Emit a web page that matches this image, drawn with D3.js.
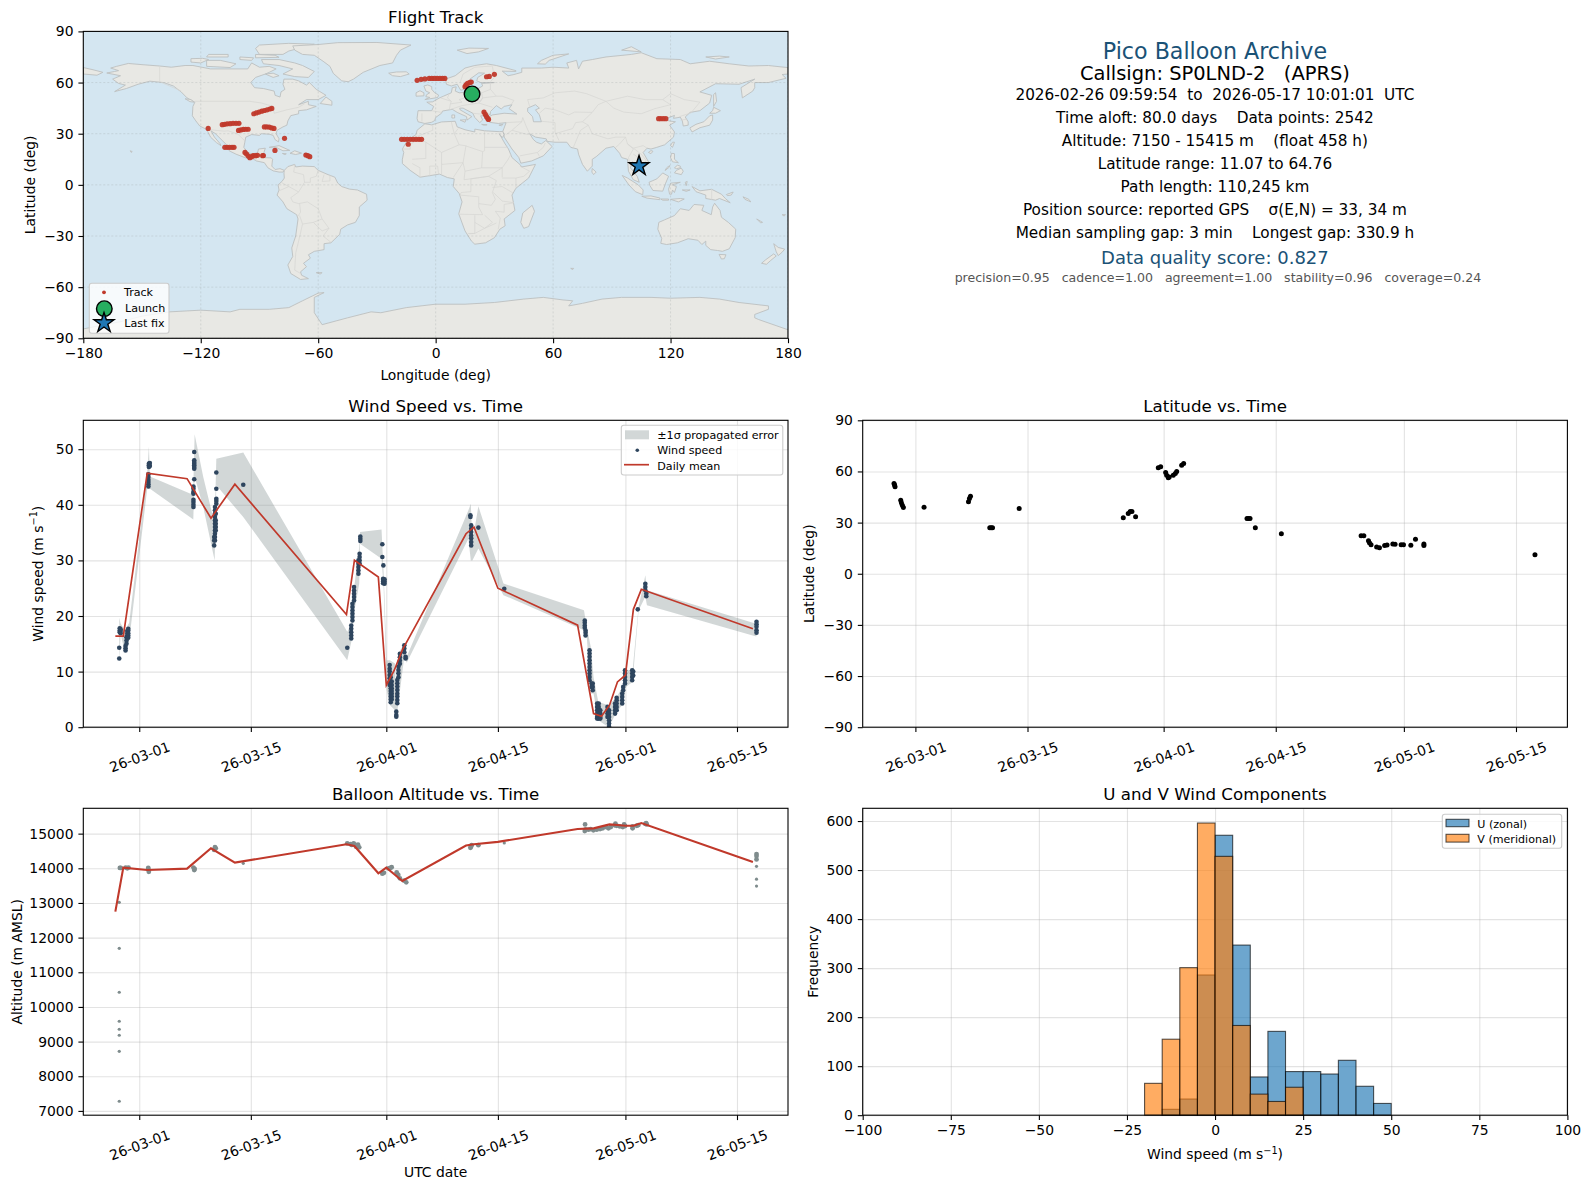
<!DOCTYPE html>
<html>
<head>
<meta charset="utf-8">
<script src="https://cdn.jsdelivr.net/npm/d3@7"></script>
<style>
  body { margin: 0; background: #fff; }
  text { font-family: "DejaVu Sans", sans-serif; fill: #000; white-space: pre; }
  .domain { display: none; }
  .tick line { stroke: #000; stroke-width: 1.1; }
  .tick text { font-size: 13.9px; }
  .grid line { stroke: #b0b0b0; stroke-opacity: 0.35; stroke-width: 1.1; }
  .grid text { display: none; }
</style>
</head>
<body>
<div id="chart"></div>
<script>
// all times are days counted from 2026-03-01 00:00 UTC
var dateTicks = ["2026-03-01", "2026-03-15", "2026-04-01", "2026-04-15", "2026-05-01", "2026-05-15"];
var lonTicks = [-180, -120, -60, 0, 60, 120, 180];
var latTicks = [-90, -60, -30, 0, 30, 60, 90];
var windTicks = [0, 10, 20, 30, 40, 50];
var altTicks = [7000, 8000, 9000, 10000, 11000, 12000, 13000, 14000, 15000];
var histXTicks = [-100, -75, -50, -25, 0, 25, 50, 75, 100];
var histYTicks = [0, 100, 200, 300, 400, 500, 600];

var infoLines = [
  "2026-02-26 09:59:54  to  2026-05-17 10:01:01  UTC",
  "Time aloft: 80.0 days    Data points: 2542",
  "Altitude: 7150 - 15415 m    (float 458 h)",
  "Latitude range: 11.07 to 64.76",
  "Path length: 110,245 km",
  "Position source: reported GPS    \u03c3(E,N) = 33, 34 m",
  "Median sampling gap: 3 min    Longest gap: 330.9 h"
];

// wind speed samples: [time, [speeds]]
var windGroups = [
  [-2.51, [12.35, 14.3]],
  [-2.45, [17.8, 17.4, 17.1]],
  [-2.34, [17.6, 17.3, 16.9]],
  [-1.72, [13.8, 14.2, 14.6]],
  [-1.6, [15.0, 15.6, 16.2]],
  [-1.5, [16.3, 16.8, 17.3]],
  [-1.38, [17.7, 17.4, 16.9, 16.5, 16.1]],
  [1.21, [47.4, 47.1, 46.8]],
  [1.33, [47.5, 47.0]],
  [1.15, [45.5, 45.0, 44.5, 44.1, 43.7, 43.3]],
  [6.9, [49.5, 48, 47.7, 47.4, 47.1, 46.8, 46.5, 44.6]],
  [6.8, [43.3, 42.9, 42.3, 42.0, 40.9, 40.5, 40, 39.6]],
  [9.67, [45.8, 42.9, 41.1, 40.7, 40.2]],
  [9.5, [39.6, 39, 38.4, 37.8, 37.2, 36.6, 36, 35.4, 34.8, 34.2, 33.6]],
  [9.6, [38.4, 37.2, 36.6, 36, 35.4]],
  [9.4, [34.2, 33.6, 32.7]],
  [13.05, [43.6]],
  [26.1, [14.3]],
  [26.6, [15.95, 16.5, 17.1, 17.7, 18.3]],
  [26.75, [19.2, 19.8, 20.4, 21, 21.6, 22.2]],
  [26.95, [22.8, 23.4, 24, 24.6, 25.2]],
  [27.5, [27.6, 28.2, 28.8, 29.4, 30]],
  [27.65, [29.4, 30, 30.6, 31.2]],
  [27.74, [34.3, 33.9, 33.5]],
  [30.5, [32.9, 30.6]],
  [30.63, [29.1]],
  [30.6, [26.7, 26.5, 26.2, 25.9]],
  [30.78, [26.6, 26.2, 25.8]],
  [31.42, [11.2, 10.5, 10, 9.4, 8.8, 8.2, 7.6]],
  [31.55, [9, 8.2, 7.6, 7, 6.5, 6, 5.5, 5, 4.5]],
  [31.68, [8.2, 7.6, 7, 6.5, 6, 5.5, 5]],
  [32.7, [13.2, 12.6, 12, 11.4]],
  [32.52, [10.9, 10.3, 9.7, 9]],
  [32.38, [8.5, 7.9, 7.3, 6.7, 6, 5.5, 4.9, 4.3]],
  [32.25, [2.8, 2.2, 1.9]],
  [33.26, [14.75, 14.15, 13.5]],
  [33.42, [12.65, 12.35]],
  [41.55, [38.1, 37.8]],
  [41.65, [36.3, 35.7, 35.1, 34.5, 34, 33.3, 32.7]],
  [42.55, [35.9]],
  [45.8, [24.9]],
  [55.9, [19.2, 18.8, 18.3, 17.9]],
  [56, [17.4, 17, 16.5]],
  [56.5, [13.85, 13.25, 12.65, 12.05, 11.45, 10.85, 10.25, 9.65, 9.05, 8.45]],
  [56.9, [7.85, 7.25, 6.65]],
  [56.75, [7.85, 7.25]],
  [57.45, [4.25, 3.65, 3.05, 2.45, 1.85, 1.55]],
  [57.65, [4.25, 3.65, 3.05, 2.45, 1.85, 1.55]],
  [57.85, [3.05, 2.45, 1.85, 1.55]],
  [58.75, [3.65, 3.05, 2.45, 1.85]],
  [58.95, [3.05, 2.45, 1.85, 1.25, 0.65, 0.1]],
  [59.7, [4.25, 3.65, 3.05, 2.45]],
  [59.9, [5.3, 4.85, 4.25, 3.65, 3.05]],
  [60.6, [4.25, 4.85, 5.45, 6.05]],
  [60.72, [6.65, 7.25]],
  [60.95, [7.85, 8.45, 9.05, 9.65, 10.25]],
  [61.85, [10.25, 9.65, 9.05, 8.45]],
  [61.98, [10.0, 9.3]],
  [62.55, [21.2]],
  [63.5, [25.8, 25.2, 24.65]],
  [63.62, [24.05, 23.55]],
  [77.45, [18.95, 18.5, 18.05, 17.45, 17.0]]
];

// error band edges
var bandT = [-2.51, -2.34, -1.8, -1.26, 1.0, 1.21, 1.34, 6.44, 6.78, 6.95, 8.03, 9.46, 9.67, 13.05, 26.1, 26.65, 27, 27.6, 27.7, 30.4, 30.67, 31.05, 31.46, 32.1, 32.25, 32.5, 33.26, 33.56, 41.3, 41.6, 41.8, 42.55, 45.7, 55.8, 56.15, 56.65, 57, 57.6, 58.9, 59.9, 60.75, 61.05, 61.9, 62.65, 63.5, 63.7, 77.3, 77.45];
var bandHi = [19.7, 18.65, 17.45, 18.8, 45.9, 50.5, 45.1, 42.0, 43.2, 52.7, 45, 36.6, 48.3, 49.4, 17.15, 18.65, 25.5, 32.4, 35.1, 35.55, 27.6, 12.05, 12.05, 11.45, 3.35, 13.25, 15.05, 12.65, 39, 40.2, 33.3, 39.75, 25.85, 21.05, 18, 14.45, 9.05, 4.55, 3.95, 5.45, 7.55, 10.25, 10.25, 21.6, 27.35, 24.65, 18.65, 19.55];
var bandLo = [11.75, 16.7, 13.55, 15.65, 42.9, 42.9, 42.9, 37.7, 37.35, 45.0, 39.6, 30, 43.5, 37.8, 12.05, 15.65, 21.0, 25.8, 33, 30.3, 24.9, 6.65, 3.95, 3.05, 1.25, 4.25, 12.65, 11.6, 33.9, 30, 30, 32.15, 23.75, 17.45, 16.25, 6.05, 6.05, 1.25, 0, 2.75, 4.25, 7.25, 8.15, 21.0, 23.45, 21.95, 16.35, 16.35];

// daily means
var meanDays = [-3, -2, 1, 6, 9, 12, 26, 27, 30, 31, 32, 33, 41, 42, 45, 55, 57, 58, 59, 60, 61, 62, 63, 77];
var meanWind = [16.37, 16.37, 45.7, 44.7, 37.6, 43.7, 20.26, 30.04, 27, 7.55, 10.25, 13.85, 34.8, 36, 25, 18.35, 2.46, 1.98, 3.96, 8.15, 9.35, 21.2, 24.8, 17.7];
var meanAlt = [12750, 14020, 13950, 13990, 14577, 14163, 14692, 14644, 13856, 14020, 13827, 13635, 14657, 14695, 14762, 15133, 15152, 15209, 15267, 15248, 15228, 15228, 15305, 14181];

// altitude: isolated samples in the climb and at the end, then the float samples
var altSparseT = [-2.51, -2.51, -2.51, -2.51, -2.51, -2.51, -2.51, -2.51, 13.05, 45.8, 77.45, 77.45, 77.45];
var altSparseV = [13019, 11692, 10423, 9587, 9356, 9183, 8720, 7279, 14144, 14733, 14057, 13686, 13486];
var altT = [-2.43, -2.33, -1.7, -1.5, -1.35, 1.13, 1.2, 1.13, 6.8, 6.9, 6.95, 9.6, 9.4, 9.5, 26.1, 26.5, 26.65, 26.9, 27.0, 27.2, 27.45, 27.6, 30.5, 30.7, 31.25, 31.67, 31.5, 32.3, 32.5, 32.7, 33.25, 33.5, 41.55, 41.7, 41.63, 42.55, 55.94, 55.9, 56.0, 56.36, 56.65, 56.98, 57.4, 57.82, 58.15, 58.57, 58.87, 59.16, 59.75, 59.65, 59.9, 60.3, 60.67, 60.84, 60.95, 61.9, 61.9, 62.43, 62.63, 63.5, 63.6, 63.68, 77.45, 77.45, 77.45];
var altV = [14010, 14010, 14020, 14000, 14020, 13980, 13900, 14010, 14020, 13950, 13980, 14577, 14530, 14610, 14721, 14700, 14673, 14721, 14690, 14625, 14680, 14605, 13846, 13870, 14000, 14030, 14010, 13885, 13808, 13712, 13644, 13596, 14590, 14667, 14620, 14667, 15267, 15076, 15120, 15114, 15133, 15095, 15114, 15133, 15152, 15190, 15152, 15190, 15286, 15240, 15228, 15209, 15190, 15267, 15220, 15209, 15152, 15228, 15248, 15280, 15305, 15267, 14410, 14353, 14257];

var latT = [-2.67, -2.6, -2.54, -1.83, -1.75, -1.63, -1.5, 1.08, 6.88, 6.75, 6.63, 9.29, 9.46, 9.63, 12.96, 25.96, 26.58, 26.83, 27.04, 27.5, 30.33, 30.63, 31.25, 31.38, 31.58, 31.7, 32.2, 32.46, 32.63, 33.25, 33.5, 41.41, 41.6, 41.79, 42.45, 45.7, 55.66, 56, 56.58, 56.7, 56.9, 57.6, 57.95, 58.6, 58.9, 59.62, 59.9, 60.66, 60.95, 61.87, 62.45, 63.5, 63.5, 77.37];
var latV = [52.9, 52, 51, 43.1, 41.6, 40.2, 38.8, 39, 45.5, 44.1, 42.2, 27, 27, 27, 38.2, 32.9, 35.3, 36.5, 36.5, 33.5, 62.2, 62.7, 59.4, 57.8, 56.3, 56.8, 57.8, 58.8, 60, 63.7, 64.7, 32.35, 32.35, 32.35, 27.05, 23.5, 22.35, 22.35, 19.4, 18.2, 17.05, 15.7, 15.3, 16.5, 16.9, 17.45, 17.25, 17.05, 17.05, 16.7, 20.2, 17.45, 16.5, 11.2];

var trackLon = [-92.9, -91.6, -90.2, -88.8, -87.5, -86.1, -84.7, -83.7, -109, -107.8, -106.5, -105, -103.5, -102, -100.5, -100.7, -99.5, -98.2, -97, -95.8, -87.5, -86.3, -85, -83.8, -82.6, -116.2, -107.7, -106.5, -105.3, -104, -103, -97.4, -96.6, -95.7, -94.9, -94, -93.2, -92, -91, -88.4, -88, -82.1, -77.2, -66.3, -65.3, -64.3, -17.4, -16, -14.5, -13, -11.5, -10, -8.5, -7.2, -14, -9.45, -7.4, -5.5, -3.3, -2, -0.6, 0.8, 2.2, 3.5, 4.7, 15, 15.5, 16.3, 17.5, 18.2, 26, 27.4, 30, 24.7, 25.4, 26, 26.7, 27, 113.9, 115, 116.3, 117.6];
var trackLat = [41.7, 42.2, 42.7, 43.2, 43.6, 44, 44.5, 44.8, 35.3, 35.5, 35.8, 35.9, 36.1, 36.1, 36.1, 31.9, 32.2, 32.5, 32.6, 32.6, 34, 34, 33.9, 33.4, 33.1, 33.1, 22, 22, 22, 22, 22, 19, 18.1, 16.9, 15.9, 16.5, 17.1, 17.1, 17.3, 17.1, 17.2, 20.2, 27.3, 17.5, 17.1, 16.5, 26.7, 26.7, 26.7, 26.7, 26.7, 26.7, 26.7, 26.7, 23.8, 61.3, 61.9, 62.1, 62.4, 62.4, 62.4, 62.4, 62.4, 62.4, 62.4, 57.6, 58.6, 59.5, 60.1, 60.3, 63.4, 63.6, 64.8, 42.7, 41.3, 40, 38.8, 38.4, 38.8, 38.8, 38.8, 38.8];
var launchPos = [18.6, 53.3];
var lastPos = [103.9, 11.07];

var binEdgesU = [-15, -10, -5, 0, 5, 10, 15, 20, 25, 30, 35, 40, 45];
var countsU = [12, 33, 286, 571, 347, 78, 171, 89, 89, 84, 112, 59, 24];
var binEdgesV = [-20, -15, -10, -5, 0, 5, 10, 15, 20];
var countsV = [65, 155, 301, 596, 528, 183, 43, 28, 57];

// hand traced outlines, lon/lat
var landPolys = [
  // north america
  [[-168,65.6],[-164,66.5],[-162,67],[-166,68.5],[-163,69.5],[-157,71.2],[-150,70.5],[-141,69.7],[-135,69],[-128,70],[-124,70],[-115,68],[-108,68],[-100,68],[-96,68],[-94,71.5],[-90,69],[-85,69.5],[-81.5,68],[-85,66],[-87,65],[-92,63],[-94.5,60],[-92.5,57],[-88,56.5],[-82.5,55],[-82,52.5],[-79.5,51.5],[-79,54.5],[-77,56],[-78,59],[-77.5,62],[-73,62],[-70,61],[-66,58.5],[-64.5,60],[-61,56],[-56,52.5],[-60,50],[-66,50],[-70,47],[-65,49],[-65,47],[-61,46],[-66,44],[-70,43.5],[-70,41.7],[-74,40.6],[-75.5,37.5],[-76,35],[-78,34],[-81,32],[-81.5,30],[-80,27],[-80.3,25.2],[-82,26.5],[-83,29],[-85,29.7],[-89,30],[-90,29],[-94,29.5],[-97,28],[-97.5,25],[-98,22],[-96,19],[-94,18.2],[-91,18.7],[-90.5,21],[-87,21.5],[-88,18],[-88.5,16],[-84,15.8],[-83.3,15],[-83.7,11],[-82,9],[-79.5,9.5],[-77.3,8.5],[-78,7.5],[-80,7.5],[-83,8.2],[-85.7,10],[-87.5,13],[-91.5,14],[-94.5,16],[-97,15.8],[-102,18],[-105.5,20],[-105.5,22],[-109,26],[-112.5,30],[-114.8,31.7],[-113,28],[-110,24],[-109.7,23],[-112,24.8],[-115,28],[-117,32.5],[-120.5,34.5],[-122.5,37.5],[-124.3,40.5],[-124,46],[-123,48.5],[-127,51],[-130,54.5],[-134,58],[-139,60],[-146,60.8],[-152,59],[-158,56.5],[-164,54.7],[-158.5,58.5],[-162,59.5],[-165,62],[-161,64]],
  // arctic canada
  [[-80,73.5],[-72,71.5],[-68,70],[-62,66.5],[-65,63],[-72,63.5],[-78,65],[-73,68],[-80,70],[-88,71],[-89,73.5]],
  [[-117,69.5],[-105,68.8],[-102,71],[-110,73],[-117,73]],
  [[-125,72],[-120,71.5],[-116,73.5],[-119,74.2],[-125,74]],
  [[-90,76.5],[-78,76.5],[-75,78.5],[-65,81.5],[-62,82.5],[-75,83],[-90,82],[-92,80]],
  [[-92,74.5],[-80,74.8],[-82,76],[-92,76.5]],
  [[-117,75],[-106,75],[-106,76.5],[-116,76.5]],
  [[-87,65],[-83,65.5],[-80,64],[-83,63]],
  [[-100,73.5],[-94,73],[-93,74.5],[-100,75]],
  [[-59,47.7],[-53,46.7],[-53,49],[-56,51.5]],
  [[-128,50.5],[-125,50],[-123.5,48.5],[-125.5,48.8]],
  [[-85,22],[-80,23],[-74.5,20.2],[-78,20],[-82,22.2]],
  [[-74.4,18.5],[-72,20],[-68.5,18.6],[-71.5,17.8]],
  [[-78.3,18.4],[-76.3,18.2],[-77,17.8]],
  [[-67.2,18.4],[-65.7,18.3],[-66.5,17.9]],
  [[-156,20],[-155,19.5],[-155.5,19]],
  // greenland and iceland
  [[-72,79],[-73,81.5],[-60,82.3],[-50,83.4],[-30,83.5],[-12.6,82],[-18,79],[-20,76],[-22,71.5],[-28.5,70],[-37,66],[-42,62],[-44.7,60.5],[-48,61],[-52.3,65.4],[-54,69.5],[-57.5,72.5],[-62,76],[-68,76.5]],
  [[-24,65.5],[-20,66.2],[-15,66.3],[-13.5,65],[-18,63.5],[-22,64]],
  // south america
  [[-77.3,8.5],[-75.5,10.7],[-72,12],[-71.5,10.5],[-68,11],[-62,10.7],[-60,8.5],[-55,6],[-51.5,4.5],[-50,1],[-48,-1],[-44,-2.5],[-40,-3],[-35.3,-5.5],[-35,-9],[-39,-13],[-39,-18],[-41,-22],[-45,-23.5],[-48.5,-26],[-49,-29],[-53.5,-34],[-57,-34.5],[-57,-38],[-62,-39],[-65,-41],[-64,-43],[-67.5,-46],[-66,-48],[-69,-51],[-68.5,-53],[-65,-55],[-69,-55.5],[-74,-52],[-75.5,-47],[-73,-42],[-73.5,-37],[-71.5,-30],[-70.3,-20],[-71,-17.5],[-76,-14],[-78,-10],[-81,-6],[-80,-3],[-80.5,0],[-78.5,2],[-77.3,4],[-77.5,7]],
  [[-61,-51.5],[-58,-51.5],[-59,-52.3]],
  // eurasia
  [[-9,37],[-9.5,39],[-9,43.5],[-2,43.5],[-1,46],[-4.5,48.5],[-1.5,48.7],[2,51],[4,52],[8,54],[8.5,57],[10.5,57.5],[10,55],[12,54],[19,54.5],[21,56],[24,58],[23.5,59.5],[30,60],[23,60],[21,61],[21.5,63],[25,65.5],[22,65.7],[17.5,62],[18.5,60],[16.5,57],[14.5,56],[12.8,55.5],[11,59],[8,58],[5.5,59],[5,62],[10,64],[15,68.5],[20,70],[26,71],[31,70],[41,67],[41,66.5],[34,66.7],[37,64],[40,64.7],[44,66],[44,68.5],[54,68.5],[60,69],[68,68.5],[67,71.5],[72,73],[73,68],[75,72.5],[80,73.5],[87,75],[100,76.5],[105,77.5],[113,74],[125,73.5],[130,71],[140,72.5],[150,71],[160,69.7],[170,70],[178,69],[180,68.8],[180,65],[177,64.7],[179,62.5],[170,60],[163,60],[163,57],[162,55],[156.7,51],[156,57],[163,62],[155,59],[143,59.3],[135,54.5],[141,52.5],[140,48],[135,43.5],[130,42.5],[127.5,39.8],[129,37],[129,35],[126.5,34.5],[126,37.5],[125,39.7],[121.5,39],[122,40.7],[118,39],[119,37.5],[122.5,37],[119.5,35],[122,31],[121.5,28],[117,23.5],[113,22],[110,21],[108,21.5],[106,19],[109,13],[107,10.5],[105,8.7],[105,10],[102,12.5],[100.5,13.5],[99.5,10],[103,5],[104,1.5],[101,3],[98.5,8],[98,15],[95,16],[94,18.5],[91,22.5],[87,21.5],[82,16.5],[80,15],[80,11],[77.5,8],[75,12],[73,18],[72.5,21],[69,22],[67,25],[61,25],[57,25.5],[56.5,27],[51,28],[48,30],[50,26.5],[51.5,25],[54,24],[56.3,26],[59.5,22.5],[55,17],[49,14],[43.5,12.7],[42.5,16],[39,21],[35,28],[34.9,29.5],[34.3,31.3],[36,36.5],[32,36],[27.5,36.7],[26.5,39.5],[29,41],[35,42],[41.5,41.5],[37.5,44.7],[39,47],[35,46],[33.5,44.5],[31,46.5],[28,43],[28,41.3],[26,40.7],[23,40.5],[24,38],[22.5,36.5],[20,39.5],[19,42],[14,45],[12.3,45],[12.5,44],[18.5,40],[16,38],[15.8,40],[11,42.5],[8.5,44.3],[3.5,43.3],[3,42],[0,39.5],[-0.5,37.7],[-2,36.7],[-5.5,36]],
  [[-180,68.8],[-175,67.5],[-170,66],[-173,64.3],[-180,65]],
  // africa
  [[-5.5,35.8],[-2,35.2],[3,36.9],[10,37.3],[11,34],[15,32.3],[20,31],[20,32.7],[25,31.7],[32.5,31.2],[34.3,31.3],[34.9,29.5],[34.3,27.8],[33,29],[32.5,30],[35.5,24],[37.2,21],[39,16],[43,12],[44,10.5],[51,12],[47.5,4],[41,-2],[39,-6],[40.5,-15],[35,-20],[35.5,-24],[32.8,-26],[30,-31],[25.5,-34],[20,-34.8],[18.3,-33],[15,-27],[11.8,-17],[13.5,-10],[12,-5],[9,-1],[9.5,3.5],[6,4.3],[2,6.3],[-4,5.2],[-8,4.5],[-13,8.5],[-17,12.5],[-17,15],[-16.3,19],[-17,21],[-14.5,26],[-10,29.5],[-9.5,32]],
  [[49.3,-12],[50.5,-15.5],[47.5,-24.5],[45,-25.5],[43.5,-22],[44.5,-16.5]],
  // european islands
  [[-5.5,50],[1,51.2],[1.5,52.7],[-0.5,54],[-2,56],[-2,57.6],[-4,58.6],[-6,58],[-5,55],[-3,54],[-4.7,52.8],[-5,51.7],[-3,51.3]],
  [[-10,52],[-6,52.2],[-6,54],[-8,55.2],[-10,54]],
  [[11,79],[16,77],[22,78],[27,80],[17,80.2]],
  [[52,71],[56,70.8],[58,73],[68,76.8],[60,76],[54,73]],
  [[95,79],[105,78],[100,81]],
  [[138,75],[145,75.5],[150,75],[143,73.8]],
  [[8.3,39.2],[9.7,39.2],[9.7,41],[8.3,41]],
  [[12.5,38],[15.5,38.2],[15,36.7]],
  [[23.5,35.5],[26.3,35.2],[24.5,35]],
  [[32.3,35],[34.5,35.6],[33.7,34.7]],
  // east asia
  [[130,33],[131,31],[135,33.5],[140,35],[141.5,38],[141.5,41],[140,40.5],[137,37],[133,35.5],[130,33.5]],
  [[140,42],[143,42],[145.5,43.5],[142,45.5],[141.5,43.5]],
  [[142,46],[143.5,49],[143,54],[142,53],[142,48]],
  [[120,23],[121,22],[122,25],[121,25]],
  [[108.7,19],[110,18.3],[111,19.7],[110,20.1]],
  [[120,16],[120.5,18.5],[122,18.3],[122,15],[124,13],[121,13.5]],
  [[122,7],[125.5,6],[126.5,8],[125.5,9.8],[123,8.5]],
  [[122,10],[123.5,11.5],[125,11],[125,10],[123,9.5]],
  [[117.2,8.4],[119.5,10.5],[119.5,11.3],[118,10]],
  [[109,1.5],[111,2.5],[113,3.5],[116,7],[119,5],[117.5,1],[116,-3.7],[111,-3.3],[109.5,-0.5]],
  [[95.3,5.5],[98,4],[103.5,0],[106,-3],[105.8,-5.8],[102,-4],[98.7,0]],
  [[105.3,-6.7],[110,-6.5],[114.5,-7.7],[114.5,-8.7],[108,-7.8]],
  [[119.5,-5.5],[119,-2.5],[120,1],[125,1.5],[121,0],[123,-1],[122,-4.5],[121,-3],[120.5,-5.5]],
  [[131,-1],[135,-3.5],[141,-2.6],[146,-5.5],[148,-8],[150.5,-10.5],[145,-8],[143,-9],[138,-8],[138,-6],[133,-4]],
  [[148.5,-5.7],[152,-4.2],[151,-6],[149,-6.3]],
  [[115,-8.3],[119,-8.3],[119,-9],[116,-9]],
  [[120,-8.5],[125,-8],[127,-8.3],[124,-10]],
  [[127.5,1.5],[128.5,2],[128,-0.5]],
  [[126,-3],[130,-3],[128,-3.8]],
  [[80,9.6],[82,7.5],[80.7,6],[79.8,7.5]],
  // oceania
  [[114,-22],[113.5,-26],[115.5,-31.5],[115,-34.3],[118,-35],[123.5,-34],[129,-31.6],[134,-32.5],[136,-35],[138,-33],[138,-35.5],[140.5,-38],[144,-38.5],[146.5,-39],[150,-37.5],[153,-31],[153.3,-26],[149.5,-22],[146,-19],[145.3,-15],[142.5,-10.8],[141.5,-13],[140.8,-17.5],[136,-15],[137,-12],[132,-11.5],[129.5,-15],[125,-14],[122,-18],[117,-20.5]],
  [[144.8,-40.8],[148.3,-41],[147.5,-43.3],[146,-43.5]],
  [[172.7,-34.5],[175,-36.7],[178.3,-37.7],[177,-39.5],[175,-41.5],[174,-39.3]],
  [[172.7,-40.5],[174,-41.7],[171,-44.5],[169,-46.6],[166.5,-46],[168.5,-44]],
  [[164,-20],[167,-22],[166,-22.3]],
  [[69,-49],[70.5,-49],[70,-49.7]],
  [[157,-7],[160,-8.5],[161,-10],[158,-8.5]],
  [[177,-17.5],[178.7,-17.5],[178,-18.3]],
  // antarctica
  [[-180,-84.5],[-160,-80],[-150,-77],[-136,-74.5],[-120,-73.5],[-105,-74.5],[-100,-73],[-85,-73],[-75,-72],[-68,-68],[-60,-63.5],[-57,-63.2],[-62,-66],[-62,-75],[-58,-82],[-45,-78],[-33,-74.5],[-28,-75],[-15,-72],[0,-70],[15,-70],[30,-69],[45,-67],[55,-66],[65,-67.5],[70,-68],[68,-71],[75,-69.5],[85,-67],[95,-66],[110,-66],[120,-66.5],[135,-66],[145,-67],[155,-69],[170,-71],[170,-73],[163,-76],[163,-78],[165,-79],[180,-85],[180,-90],[-180,-90]]
];
var caspian = [[47,45],[51,47],[53,45],[51,44],[53,41],[54,37],[50,37],[49.5,40],[47,43]];

var borderLines = [
  [[-123,49],[-95,49],[-89,48],[-83,46],[-82.5,42],[-76,44],[-70,45.5],[-67,47.5]],
  [[-141,69.7],[-141,60.5],[-130,55]],
  [[-117,32.5],[-108,31.5],[-106,31.7],[-101,29.7],[-97.5,25.8]],
  [[-92,14.5],[-91,17.5],[-89,17.8]],
  [[-72,12],[-72.5,7.5],[-67.5,6],[-67,1.5]],
  [[-60,8.5],[-61,5],[-64,4],[-64,1.5],[-67,1.5],[-70,-4.2],[-74,-7.5],[-73,-10],[-70,-11],[-65.5,-10],[-60,-14],[-58,-20],[-54.5,-25.5],[-57.5,-30],[-53.5,-33.7]],
  [[-70.3,-18.3],[-69,-16],[-69.5,-11]],
  [[-69.5,-18],[-68,-23],[-70,-33],[-71.5,-40],[-72,-50],[-69,-52]],
  [[-68,-23],[-62.5,-22],[-58,-20]],
  [[-62.5,-22],[-58,-27],[-54.5,-25.5]],
  [[-80,-3.5],[-75,-1],[-70,-4.2]],
  [[-78.5,1.2],[-75,-1]],
  [[-57,6],[-58,2],[-54,2.3],[-54,5.8]],
  [[-1.5,35],[-1.5,32],[-8.7,28.7],[-13,27.7]],
  [[-8.7,27.3],[-5,25],[3,19],[12,23.5],[9.5,30],[8,37]],
  [[25,31.7],[25,20],[24,19.5],[15,23],[12,23.5]],
  [[9.5,30],[11.5,33]],
  [[25,22],[36.8,22]],
  [[-12,15],[-5,15.5],[-5,25]],
  [[-17,21],[-13,21],[-13,23.5],[-8.7,27.3]],
  [[3,19],[3,12],[14,13],[15.5,23]],
  [[14,13],[15,8],[23.5,10],[24,19.5]],
  [[23.5,10],[34,10],[36.8,14.5],[38.5,18]],
  [[3,6.3],[3,12]],
  [[9,4.3],[14,13]],
  [[15,8],[14.5,3],[27,5],[34,10]],
  [[12.5,-6],[13,-4.5],[18,-4],[18,3.5],[27,5],[31,2.5],[29,-4.5],[30.5,-8.5],[28.5,-12],[22,-11],[22,-7],[12.5,-6]],
  [[11.8,-17.2],[24,-17.5],[22,-13],[22,-11]],
  [[20,-17.8],[20,-28.5],[16.5,-28.5]],
  [[20,-22],[25,-25.5],[29,-22],[25,-17.8]],
  [[34,-1],[39.5,-4.7]],
  [[34,-1],[29,-1.5]],
  [[29.5,-4.5],[34,-9.5],[40,-10.5]],
  [[40,-10.5],[35,-11.5],[35,-16],[30.5,-15.5],[33,-19.5],[32,-26]],
  [[34,4],[41,4],[41,-1.7]],
  [[34,10],[34,4.5]],
  [[41,4],[45,5],[48,8],[43,11]],
  [[-3,5],[-3,11],[1,11],[1.5,6.2]],
  [[-8,4.4],[-8,10],[-12,12.5]],
  [[17,-28.7],[20,-28.5],[25,-25.5],[31,-22.4]],
  [[-1.7,43.4],[3,42.5]],
  [[2.5,51],[8,49],[7.5,47.5],[7,44]],
  [[7,53.5],[6,51],[8,49]],
  [[14,54],[15,51],[12,50],[13.5,48.5],[7.5,47.5]],
  [[15,51],[23,49],[24,51],[23.5,54],[19,54.4]],
  [[7,44],[13.5,46.5]],
  [[13.5,46.5],[22,48],[29,45.5]],
  [[19,42],[23,41.5],[26,41.7],[28,42]],
  [[22,48],[24,51],[31,52],[34,52],[40,49.5],[38.5,47]],
  [[28,56],[31,52]],
  [[28,59.5],[28,56],[23.5,54]],
  [[28,60.5],[30,63],[29,69.5]],
  [[12.5,60],[14,65],[20,69],[29,69.7]],
  [[-7,42],[-7,37.2]],
  [[48,46],[47,50],[55,51],[61,54],[71,55],[77,53.5],[87,49]],
  [[87,49],[98,52],[107,50],[116,50],[120,53.5],[127,50],[135,48.5],[131,43],[130.7,42.3]],
  [[87,49],[91,45],[96,42.7],[105,41.7],[112,44.7],[120,47],[116,50]],
  [[53,42],[56,45],[61,44],[68,41],[71,42.7],[80,42.5],[83,47],[87,49]],
  [[44.5,39.5],[46,35],[48,30]],
  [[54,37.3],[61,36.5],[61,31],[63,26]],
  [[61,30],[70,33],[71.5,36.5],[75,37],[78,35],[74,32],[70,21]],
  [[78,35],[80,30],[88,27],[92,28],[97,28],[94,24],[92,22]],
  [[75,37],[80,42.5]],
  [[97,28],[98,24],[101,21.5],[106,23],[108,21.5]],
  [[98,24],[101,21],[98.5,16],[99.5,11]],
  [[101,21.5],[105,18],[107.5,14.5],[106,11]],
  [[102.5,12],[105.5,14.5],[101,18]],
  [[44.5,39.5],[44,37],[36,36.5]],
  [[36,29.5],[39,32],[41,34],[44,37]],
  [[39,32],[47,29.5],[48,30]],
  [[43,17],[52,19],[55,22],[56,24.5]],
  [[52,19],[53,16.7]],
  [[125,38],[128.5,38.5]],
  [[124.5,40],[130.7,42.3]],
  [[141,-2.6],[141,-9]]
];

var svgWidth = 1590;
var svgHeight = 1189;
var colTeal = "#1a5276";
var colRed = "#c0392b";
var colWind = "#2e455e";
var colGrey = "#7f8c8d";

var svg = d3.select("#chart").append("svg")
  .attr("width", svgWidth)
  .attr("height", svgHeight)
  .style("display", "block");

var dayMs = 86400000;
var t0 = Date.UTC(2026, 2, 1);
function toDate(t) { return new Date(t0 + t * dayMs); }

var dateFmt = d3.utcFormat("%y-%m-%d");
var tickDates = dateTicks.map(d => new Date(d + "T00:00:00Z"));

var panelW = 704.7;
var panelH = 306.9;
var leftX = 83.3;
var rightX = 862.7;

function makePanel(name, x, y, title) {
  var g = svg.append("g").attr("transform", `translate(${x}, ${y})`);
  g.append("clipPath").attr("id", "clip-" + name)
    .append("rect").attr("width", panelW).attr("height", panelH);
  g.append("text")
    .attr("x", panelW / 2)
    .attr("y", -8.3)
    .attr("text-anchor", "middle")
    .style("font-size", "16.67px")
    .text(title);
  return g;
}

function addGrid(g, xScale, xVals, yScale, yVals) {
  g.append("g").attr("class", "grid")
    .attr("transform", `translate(0, ${panelH})`)
    .call(d3.axisBottom(xScale).tickValues(xVals).tickSize(-panelH).tickFormat(""));
  g.append("g").attr("class", "grid")
    .call(d3.axisLeft(yScale).tickValues(yVals).tickSize(-panelW).tickFormat(""));
}

function addFrame(g) {
  g.append("rect")
    .attr("width", panelW).attr("height", panelH)
    .attr("fill", "none").attr("stroke", "#000").attr("stroke-width", 1.1);
}

function addYAxis(g, yScale, vals, label, labelX, fmt) {
  g.append("g")
    .call(d3.axisLeft(yScale).tickValues(vals).tickSize(4.9).tickPadding(4.9).tickSizeOuter(0).tickFormat(fmt || null));
  var t = g.append("text")
    .attr("transform", `translate(${labelX}, ${panelH / 2}) rotate(-90)`)
    .attr("text-anchor", "middle")
    .style("font-size", "13.9px");
  t.text(label);
  return t;
}

function addTimeAxis(g, xScale) {
  var ax = g.append("g")
    .attr("transform", `translate(0, ${panelH})`)
    .call(d3.axisBottom(xScale).tickValues(tickDates).tickFormat(dateFmt).tickSize(4.9).tickSizeOuter(0));
  ax.selectAll(".tick text")
    .attr("x", 0)
    .attr("y", 29.7)
    .attr("dy", "0.36em")
    .attr("text-anchor", "middle")
    .attr("transform", "rotate(-20, 0, 29.7)");
}

function addLegendBox(g, x, y, w, h) {
  g.append("rect")
    .attr("x", x).attr("y", y).attr("width", w).attr("height", h)
    .attr("rx", 2.5)
    .attr("fill", "#fff").attr("fill-opacity", 0.8)
    .attr("stroke", "#ccc").attr("stroke-width", 1.1);
}

function legendText(g, x, y, label) {
  g.append("text")
    .attr("x", x).attr("y", y).attr("dy", "0.36em")
    .style("font-size", "11.1px")
    .text(label);
}

function windLabel(t) {
  t.text("Wind speed (m s");
  t.append("tspan").attr("dy", -5.5).style("font-size", "9.7px").text("\u22121");
  t.append("tspan").attr("dy", 5.5).text(")");
}

// ---- flight track map ----
var mapG = makePanel("map", leftX, 31.4, "Flight Track");
var lonScale = d3.scaleLinear().domain([-180, 180]).range([0, panelW]);
var latScale = d3.scaleLinear().domain([-90, 90]).range([panelH, 0]);

var mapBody = mapG.append("g").attr("clip-path", "url(#clip-map)");
mapBody.append("rect").attr("width", panelW).attr("height", panelH).attr("fill", "#d4e6f1");

var geoLine = d3.line().x(d => lonScale(d[0])).y(d => latScale(d[1]));
var geoClosed = d3.line().x(d => lonScale(d[0])).y(d => latScale(d[1])).curve(d3.curveLinearClosed);

mapBody.selectAll(".land").data(landPolys).enter().append("path")
  .attr("class", "land")
  .attr("d", d => geoClosed(d))
  .attr("fill", "#e8e8e4")
  .attr("stroke", "#bcbfc0")
  .attr("stroke-width", 0.9)
  .attr("stroke-linejoin", "round");

mapBody.selectAll(".border").data(borderLines).enter().append("path")
  .attr("class", "border")
  .attr("d", d => geoLine(d))
  .attr("fill", "none")
  .attr("stroke", "#d6d6d3")
  .attr("stroke-width", 0.7);

mapBody.append("path")
  .attr("d", geoClosed(caspian))
  .attr("fill", "#d4e6f1")
  .attr("stroke", "#bcbfc0")
  .attr("stroke-width", 0.9);

var mapGrid = mapBody.append("g");
lonTicks.forEach(function(v) {
  mapGrid.append("line").attr("x1", lonScale(v)).attr("x2", lonScale(v)).attr("y1", 0).attr("y2", panelH);
});
latTicks.forEach(function(v) {
  mapGrid.append("line").attr("y1", latScale(v)).attr("y2", latScale(v)).attr("x1", 0).attr("x2", panelW);
});
mapGrid.selectAll("line")
  .attr("stroke", "#9aa0a3").attr("stroke-opacity", 0.4)
  .attr("stroke-width", 0.7).attr("stroke-dasharray", "2,2");

mapBody.selectAll(".track").data(trackLon).enter().append("circle")
  .attr("class", "track")
  .attr("cx", d => lonScale(d))
  .attr("cy", (d, i) => latScale(trackLat[i]))
  .attr("r", 2.6)
  .attr("fill", colRed)
  .attr("fill-opacity", 0.95);

mapBody.append("circle")
  .attr("cx", lonScale(launchPos[0])).attr("cy", latScale(launchPos[1]))
  .attr("r", 7.8)
  .attr("fill", "#27ae60").attr("stroke", "#000").attr("stroke-width", 1.4);

var starPath = d3.symbol().type(d3.symbolStar).size(124)();
mapBody.append("path")
  .attr("d", starPath)
  .attr("transform", `translate(${lonScale(lastPos[0])}, ${latScale(lastPos[1])})`)
  .attr("fill", "#1f77b4").attr("stroke", "#000").attr("stroke-width", 1.4);

addFrame(mapG);
mapG.append("g")
  .attr("transform", `translate(0, ${panelH})`)
  .call(d3.axisBottom(lonScale).tickValues(lonTicks).tickSize(4.9).tickPadding(4.9).tickSizeOuter(0));
addYAxis(mapG, latScale, latTicks, "Latitude (deg)", -48);
mapG.append("text")
  .attr("x", panelW / 2).attr("y", panelH + 42)
  .attr("text-anchor", "middle")
  .style("font-size", "13.9px")
  .text("Longitude (deg)");

addLegendBox(mapG, 6, 251.9, 79.7, 50);
mapG.append("circle").attr("cx", 20.7).attr("cy", 260.9).attr("r", 1.9).attr("fill", colRed);
mapG.append("circle").attr("cx", 21).attr("cy", 277.3).attr("r", 7.8)
  .attr("fill", "#27ae60").attr("stroke", "#000").attr("stroke-width", 1.4);
mapG.append("path").attr("d", starPath)
  .attr("transform", "translate(20.7, 291.6)")
  .attr("fill", "#1f77b4").attr("stroke", "#000").attr("stroke-width", 1.4);
legendText(mapG, 40.7, 260.9, "Track");
legendText(mapG, 41.7, 276.9, "Launch");
legendText(mapG, 41, 291.9, "Last fix");

// ---- info block ----
var infoG = svg.append("g").attr("text-anchor", "middle").attr("transform", "translate(1214.9, 0)");
infoG.append("text").attr("y", 58.6).style("font-size", "22.2px").style("fill", colTeal).text("Pico Balloon Archive");
infoG.append("text").attr("y", 80).style("font-size", "19.44px").text("Callsign: SP0LND-2   (APRS)");
var infoY = [99.6, 122.8, 145.8, 168.8, 191.8, 214.8, 237.8];
infoG.selectAll(".info").data(infoLines).enter().append("text")
  .attr("class", "info")
  .attr("y", (d, i) => infoY[i])
  .style("font-size", "15.28px")
  .text(d => d);
infoG.append("text").attr("y", 263.8).style("font-size", "18px").style("fill", colTeal).text("Data quality score: 0.827");
infoG.append("text").attr("x", 3).attr("y", 282.3).style("font-size", "12.55px").style("fill", "#555")
  .text("precision=0.95   cadence=1.00   agreement=1.00   stability=0.96   coverage=0.24");

// ---- wind speed ----
var windG = makePanel("wind", leftX, 420.3, "Wind Speed vs. Time");
var timeLeft = d3.scaleUtc()
  .domain([toDate(-7.02), toDate(81.4)])
  .range([0, panelW]);
var windY = d3.scaleLinear().domain([0, 55.2]).range([panelH, 0]);

addGrid(windG, timeLeft, tickDates, windY, windTicks);

var windBody = windG.append("g").attr("clip-path", "url(#clip-wind)");
var bandArea = d3.area()
  .x((d, i) => timeLeft(toDate(d)))
  .y0((d, i) => windY(bandLo[i]))
  .y1((d, i) => windY(bandHi[i]));
windBody.append("path")
  .attr("d", bandArea(bandT))
  .attr("fill", colGrey).attr("fill-opacity", 0.35);

windGroups.forEach(function(grp) {
  windBody.selectAll(null).data(grp[1]).enter().append("circle")
    .attr("cx", timeLeft(toDate(grp[0])))
    .attr("cy", d => windY(d))
    .attr("r", 2.3)
    .attr("fill", colWind);
});

var meanLineWind = d3.line()
  .x(d => timeLeft(toDate(d)))
  .y((d, i) => windY(meanWind[i]));
windBody.append("path")
  .attr("d", meanLineWind(meanDays))
  .attr("fill", "none").attr("stroke", colRed).attr("stroke-width", 1.7);

addFrame(windG);
addTimeAxis(windG, timeLeft);
windLabel(addYAxis(windG, windY, windTicks, "", -40.5));

addLegendBox(windG, 538, 5, 161.5, 49.7);
windG.append("rect").attr("x", 541.7).attr("y", 10).attr("width", 24).attr("height", 9)
  .attr("fill", colGrey).attr("fill-opacity", 0.35);
windG.append("circle").attr("cx", 554).attr("cy", 30).attr("r", 1.8).attr("fill", colWind);
windG.append("line").attr("x1", 540.7).attr("x2", 565.7).attr("y1", 44.4).attr("y2", 44.4)
  .attr("stroke", colRed).attr("stroke-width", 1.7);
legendText(windG, 574, 15, "\u00b11\u03c3 propagated error");
legendText(windG, 574, 30, "Wind speed");
legendText(windG, 574, 45.7, "Daily mean");

// ---- latitude ----
var latG = makePanel("lat", rightX, 420.3, "Latitude vs. Time");
var timeRight = d3.scaleUtc()
  .domain([toDate(-6.58), toDate(81.42)])
  .range([0, panelW]);
var latYScale = d3.scaleLinear().domain([-90, 90]).range([panelH, 0]);

addGrid(latG, timeRight, tickDates, latYScale, latTicks);
latG.append("g").attr("clip-path", "url(#clip-lat)")
  .selectAll("circle").data(latT).enter().append("circle")
  .attr("cx", d => timeRight(toDate(d)))
  .attr("cy", (d, i) => latYScale(latV[i]))
  .attr("r", 2.5)
  .attr("fill", "#000");
addFrame(latG);
addTimeAxis(latG, timeRight);
addYAxis(latG, latYScale, latTicks, "Latitude (deg)", -48.7);

// ---- altitude ----
var altG = makePanel("alt", leftX, 808.3, "Balloon Altitude vs. Time");
var altY = d3.scaleLinear().domain([6876, 15731]).range([panelH, 0]);

addGrid(altG, timeLeft, tickDates, altY, altTicks);
var altBody = altG.append("g").attr("clip-path", "url(#clip-alt)");
altBody.selectAll(".sparse").data(altSparseT).enter().append("circle")
  .attr("class", "sparse")
  .attr("cx", d => timeLeft(toDate(d)))
  .attr("cy", (d, i) => altY(altSparseV[i]))
  .attr("r", 1.6)
  .attr("fill", colGrey);
altBody.selectAll(".float").data(altT).enter().append("circle")
  .attr("class", "float")
  .attr("cx", d => timeLeft(toDate(d)))
  .attr("cy", (d, i) => altY(altV[i]))
  .attr("r", 2.4)
  .attr("fill", colGrey);
var meanLineAlt = d3.line()
  .x(d => timeLeft(toDate(d)))
  .y((d, i) => altY(meanAlt[i]));
altBody.append("path")
  .attr("d", meanLineAlt(meanDays))
  .attr("fill", "none").attr("stroke", colRed).attr("stroke-width", 2.1);
addFrame(altG);
addTimeAxis(altG, timeLeft);
addYAxis(altG, altY, altTicks, "Altitude (m AMSL)", -61.8, d3.format("d"));
altG.append("text")
  .attr("x", panelW / 2).attr("y", panelH + 61.5)
  .attr("text-anchor", "middle")
  .style("font-size", "13.9px")
  .text("UTC date");

// ---- histogram ----
var histG = makePanel("hist", rightX, 808.3, "U and V Wind Components");
var histX = d3.scaleLinear().domain([-100, 100]).range([0, panelW]);
var histY = d3.scaleLinear().domain([0, 626]).range([panelH, 0]);
var binWidth = 5;

addGrid(histG, histX, histXTicks, histY, histYTicks);

function drawBars(edges, counts, color) {
  histG.append("g").selectAll("rect").data(edges).enter().append("rect")
    .attr("x", d => histX(d))
    .attr("width", d => histX(d + binWidth) - histX(d))
    .attr("y", (d, i) => histY(counts[i]))
    .attr("height", (d, i) => panelH - histY(counts[i]))
    .attr("fill", color).attr("fill-opacity", 0.65)
    .attr("stroke", "#000").attr("stroke-opacity", 0.65).attr("stroke-width", 1.1);
}
drawBars(binEdgesU, countsU, "#1f77b4");
drawBars(binEdgesV, countsV, "#ff7f0e");

addFrame(histG);
histG.append("g")
  .attr("transform", `translate(0, ${panelH})`)
  .call(d3.axisBottom(histX).tickValues(histXTicks).tickSize(4.9).tickPadding(4.9).tickSizeOuter(0));
addYAxis(histG, histY, histYTicks, "Frequency", -44.5);
var histLabel = histG.append("text")
  .attr("x", panelW / 2).attr("y", panelH + 44)
  .attr("text-anchor", "middle")
  .style("font-size", "13.9px");
windLabel(histLabel);

addLegendBox(histG, 579.6, 6, 119.4, 34);
histG.append("rect").attr("x", 583.3).attr("y", 11).attr("width", 23).attr("height", 7.4)
  .attr("fill", "#1f77b4").attr("fill-opacity", 0.65).attr("stroke", "#000").attr("stroke-opacity", 0.65).attr("stroke-width", 1.1);
histG.append("rect").attr("x", 583.3).attr("y", 26).attr("width", 23).attr("height", 7.8)
  .attr("fill", "#ff7f0e").attr("fill-opacity", 0.65).attr("stroke", "#000").attr("stroke-opacity", 0.65).attr("stroke-width", 1.1);
legendText(histG, 614.6, 15.7, "U (zonal)");
legendText(histG, 614.6, 30.7, "V (meridional)");
</script>
</body>
</html>
